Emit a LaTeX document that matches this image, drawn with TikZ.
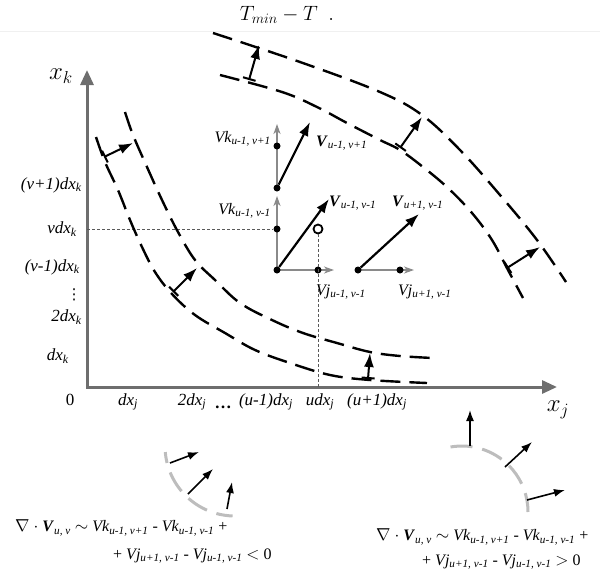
\documentclass[tikz,border=0pt]{standalone}
\usepackage{fontspec}
\setmainfont{Liberation Serif}
\newfontfamily\dejavu{DejaVu Sans}
\usetikzlibrary{arrows.meta, calc, backgrounds}
\definecolor{axisgray}{HTML}{6E6E6E}
\definecolor{compgray}{HTML}{8A8A8A}
\definecolor{arcgray}{HTML}{BDBDBD}
\newcommand{\Vk}[1]{\textit{Vk}\textsubscript{\textit{#1}}}
\newcommand{\Vj}[1]{\textit{Vj}\textsubscript{\textit{#1}}}
\newcommand{\Vbold}[1]{\textbf{\textit{V}}\textsubscript{\textit{#1}}}
\newcommand{\dxk}[1]{\textit{#1dx}\textsubscript{\textit{k}}}
\newcommand{\dxj}[1]{\textit{#1dx}\textsubscript{\textit{j}}}
\begin{document}
\begin{tikzpicture}[x=1pt, y=-1pt,
    >={Latex[length=14pt,width=10pt]},
    axisline/.style={draw=axisgray, line width=3pt,
                     {Triangle[length=15pt,width=13pt]}-{Triangle[length=15pt,width=13pt]}},
    wave/.style    ={line width=2.4pt, dash pattern=on 20pt off 9pt},
    flux/.style    ={line width=2pt, {Bar[width=13pt]}->},
    vec/.style     ={line width=2.2pt, ->},
    comp/.style    ={draw=compgray, line width=2pt, -{Stealth[length=10pt,width=7pt,inset=3pt]}},
    dot/.style     ={circle, fill, inner sep=0pt, minimum size=7pt},
    ring/.style    ={circle, draw, line width=1.8pt, fill=white, inner sep=0pt, minimum size=9pt},
    guide/.style   ={draw=gray!70!black, line width=0.8pt, dash pattern=on 3pt off 2pt},
    side/.style    ={draw=arcgray, line width=3pt, dash pattern=on 22pt off 10pt},
    smallvec/.style={line width=1.6pt, -{Latex[length=11pt,width=8pt]}},
    lbl/.style     ={font=\fontsize{16}{18}\selectfont, inner sep=1pt},
    ticklbl/.style ={font=\fontsize{17}{19}\selectfont, inner sep=1pt},
    eq/.style      ={font=\fontsize{16}{18}\selectfont, inner sep=0pt, anchor=west},
]
\useasboundingbox (0,0) rectangle (600,573);
% title
\node[font=\fontsize{21}{21}\selectfont] (title) at (287,15) {$T_{min}-T\ \ .$};
\draw[gray!12, line width=1pt] (0,31) -- (600,31);

% axes
\coordinate (O) at (87,387);
\coordinate (ytop) at (87,70);
\coordinate (xend) at (557,387);
\draw[axisline] (ytop) -- (O) -- (xend);
\node[font=\fontsize{32}{32}\selectfont] (xk) at (61,76) {$x_{\scriptscriptstyle k}$};
\node[font=\fontsize{32}{32}\selectfont] (xj) at (558,410) {$x_{\scriptscriptstyle j}$};
\node[ticklbl] (zero) at (70,400) {0};

% tick labels
\node[ticklbl, anchor=east] (yv1) at (83,185) {\dxk{(v+1)}};
\node[ticklbl, anchor=east] (yv)  at (78,229) {\dxk{v}};
\node[ticklbl, anchor=east] (yv0) at (81,267) {\dxk{(v-1)}};
\node[font=\dejavu\fontsize{15}{15}\selectfont, inner sep=0pt] (ydots) at (74,295) {⋮};
\node[ticklbl, anchor=east] (y2) at (83,317) {\dxk{2}};
\node[ticklbl, anchor=east] (y1) at (70,356) {\dxk{}};
\node[ticklbl] (x1)  at (128,402) {\dxj{}};
\node[ticklbl] (x2)  at (192,402) {\dxj{2}};
\node[ticklbl] (xdots) at (223,407) {\textbf{\dots}};
\node[ticklbl] (xu0) at (266,402) {\dxj{(u-1)}};
\node[ticklbl] (xu)  at (320,402) {\dxj{u}};
\node[ticklbl] (xu1) at (377,402) {\dxj{(u+1)}};

% grid points of the cells
\node[dot] (o1) at (277,188) {};
\node[dot] (k1) at (277,146) {};
\node[dot] (o2) at (277,270) {};
\node[dot] (k2) at (277,229) {};
\node[dot] (j2) at (318,270) {};
\node[dot] (o3) at (358,270) {};
\node[dot] (j3) at (400,270) {};
\node[ring] (p) at (318,229) {};

% guide lines
\draw[guide] (O |- k2) -- (k2);
\draw[guide] (p) -- (p |- O);

% vectors and their components
\coordinate (k1tip) at (277,124);
\coordinate (v1tip) at (310,122);
\coordinate (k2tip) at (277,196);
\coordinate (j2tip) at (334,270);
\coordinate (v2tip) at (329,199);
\coordinate (j3tip) at (414,270);
\coordinate (v3tip) at (419,214);
\begin{scope}[on background layer]
\draw[comp] (o1.center) -- (k1tip);
\draw[comp] (o2.center) -- (k2tip);
\draw[comp] (o2.center) -- (j2tip);
\draw[comp] (o3.center) -- (j3tip);
\end{scope}
\draw[vec] (o1) -- (v1tip);
\draw[vec] (o2) -- (v2tip);
\draw[vec] (o3) -- (v3tip);
\node[lbl, anchor=east] (lk1) at (272,139) {\Vk{u-1, v+1}};
\node[lbl, anchor=west] (lv1) at (315,143) {\Vbold{u-1, v+1}};
\node[lbl, anchor=east] (lk2) at (272,211) {\Vk{u-1, v-1}};
\node[lbl, anchor=west] (lv2) at (328,203) {\Vbold{u-1, v-1}};
\node[lbl, anchor=west] (lv3) at (391,203) {\Vbold{u+1, v-1}};
\node[lbl, anchor=west] (lj2) at (315,292) {\Vj{u-1, v-1}};
\node[lbl, anchor=west] (lj3) at (397,292) {\Vj{u+1, v-1}};

% isolines, upper right
\draw[wave] plot[smooth, tension=0.6] coordinates {(213,33) (300,62) (380,92) (422,115)
    (460,150) (500,195) (537,240) (566,282)};
\draw[wave] plot[smooth, tension=0.6] coordinates {(220,75) (282,92) (317,107) (347,123)
    (380,140) (400,150) (423,167) (448,188) (472,213) (492,240) (508,270) (523,298)};
% isolines, lower left
\draw[wave] plot[smooth, tension=0.6] coordinates {(96,137) (105,162) (118,190) (130,220)
    (142,247) (155,272) (172,294) (195,315) (225,333) (255,350) (290,363) (330,375)
    (370,380) (427,383)};
\draw[wave] plot[smooth, tension=0.6] coordinates {(125,112) (133,135) (147,167) (162,200)
    (178,232) (195,260) (215,280) (240,303) (272,320) (303,333) (337,343) (370,352)
    (400,356) (433,358)};

% flux across the isolines
\coordinate (f1a) at (249,80);  \coordinate (f1b) at (259,45);
\coordinate (f2a) at (400,148); \coordinate (f2b) at (422,117);
\coordinate (f3a) at (507,268); \coordinate (f3b) at (540,247);
\coordinate (f4a) at (104,157); \coordinate (f4b) at (133,143);
\coordinate (f5a) at (173,292); \coordinate (f5b) at (197,268);
\coordinate (f6a) at (368,379); \coordinate (f6b) at (370,353);
\draw[flux] (f1a) -- (f1b);
\draw[flux] (f2a) -- (f2b);
\draw[flux] (f3a) -- (f3b);
\draw[flux] (f4a) -- (f4b);
\draw[flux] (f5a) -- (f5b);
\draw[flux] (f6a) -- (f6b);

% converging case
\draw[side, dash phase=11pt] (235,446) ++(175:70) arc[start angle=175, end angle=92, radius=70];
\coordinate (c1a) at (170,463); \coordinate (c1b) at (199,452);
\coordinate (c2a) at (188,494); \coordinate (c2b) at (213,469);
\coordinate (c3a) at (227,509); \coordinate (c3b) at (232,482);
\draw[smallvec] (c1a) -- (c1b);
\draw[smallvec] (c2a) -- (c2b);
\draw[smallvec] (c3a) -- (c3b);
\node[eq] (divL1) at (15,528) {$\nabla$ $\cdot$ \Vbold{u, v} $\sim$ \Vk{u-1, v+1} - \Vk{u-1, v-1} +};
\node[eq] (divL2) at (113,556) {+ \Vj{u+1, v-1} - \Vj{u-1, v-1} $<$ 0};

% diverging case
\draw[side] (462,512) ++(-100:66) arc[start angle=-100, end angle=0, radius=66];
\coordinate (d1a) at (470,446); \coordinate (d1b) at (470,410);
\coordinate (d2a) at (505,467); \coordinate (d2b) at (532,442);
\coordinate (d3a) at (527,500); \coordinate (d3b) at (565,490);
\draw[smallvec] (d1a) -- (d1b);
\draw[smallvec] (d2a) -- (d2b);
\draw[smallvec] (d3a) -- (d3b);
\node[eq] (divR1) at (376,537) {$\nabla$ $\cdot$ \Vbold{u, v} $\sim$ \Vk{u-1, v+1} - \Vk{u-1, v-1} +};
\node[eq] (divR2) at (422,562) {+ \Vj{u+1, v-1} - \Vj{u-1, v-1} $>$ 0};
\end{tikzpicture}
\end{document}
